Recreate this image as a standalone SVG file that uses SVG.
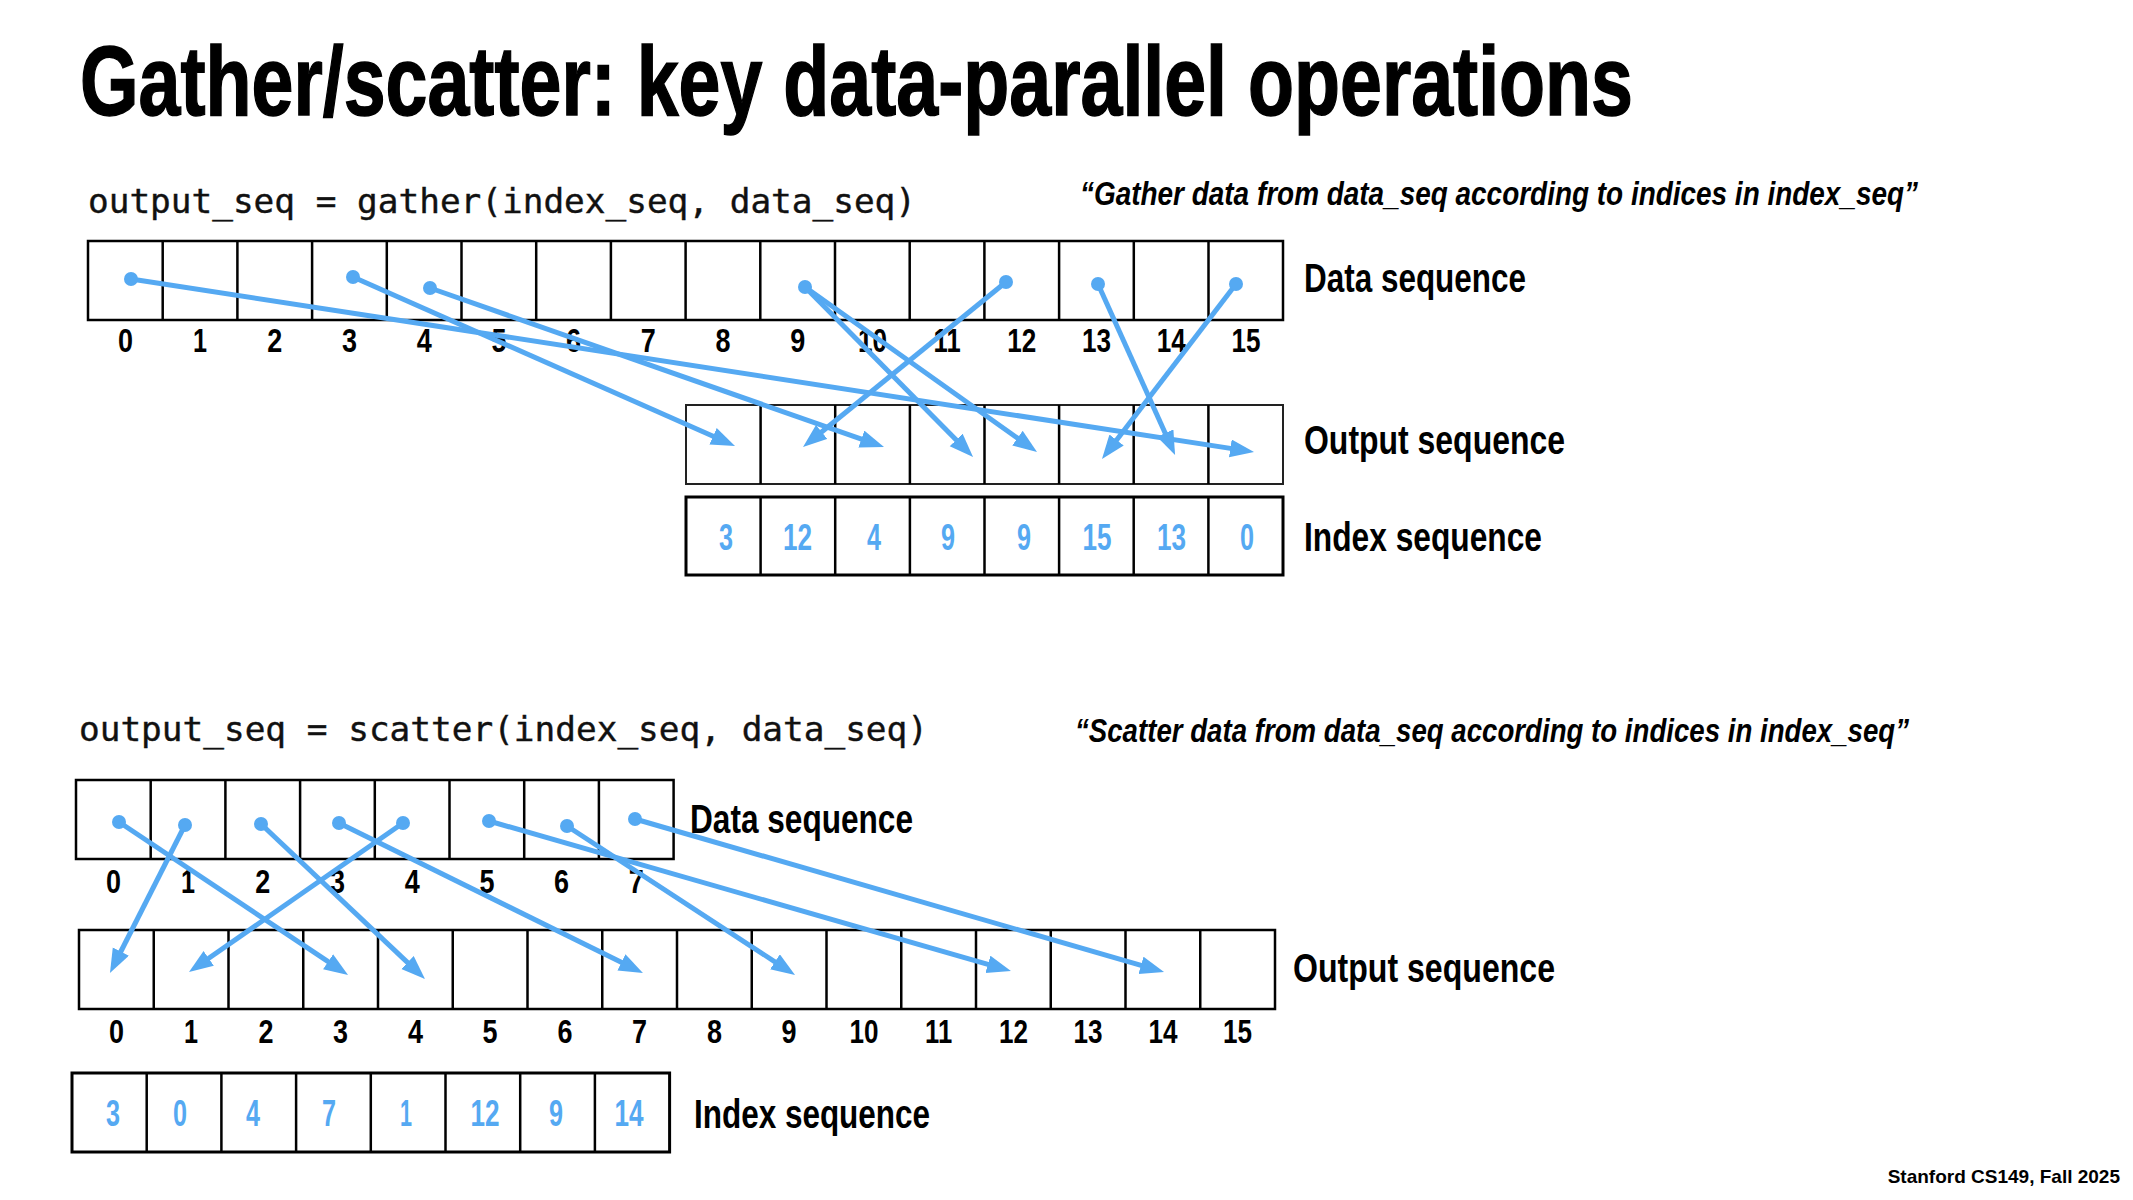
<svg xmlns="http://www.w3.org/2000/svg" width="2133" height="1200" viewBox="0 0 2133 1200">
<style>
  .title{font-family:"Liberation Sans Narrow","Liberation Sans",sans-serif;font-weight:bold;font-size:98px;fill:#000;stroke:#000;stroke-width:1.5}
  .code{font-family:"DejaVu Sans Mono","Liberation Mono",monospace;font-size:34px;fill:#111;stroke:#111;stroke-width:0.4}
  .quote{font-family:"Liberation Sans Narrow","Liberation Sans",sans-serif;font-weight:bold;font-style:italic;font-size:34px;fill:#000}
  .lbl{font-family:"Liberation Sans Narrow","Liberation Sans",sans-serif;font-weight:bold;font-size:41px;fill:#000}
  .num{font-family:"Liberation Sans Narrow","Liberation Sans",sans-serif;font-weight:bold;font-size:34px;fill:#000;text-anchor:middle}
  .idx{font-family:"Liberation Sans Narrow","Liberation Sans",sans-serif;font-weight:bold;font-size:37px;fill:#55a9f2;text-anchor:middle}
  .foot{font-family:"Liberation Sans Narrow","Liberation Sans",sans-serif;font-weight:bold;font-size:19px;fill:#000;text-anchor:end}
  .cell{fill:#fff;stroke:#000;stroke-width:2.5}
  .cellthin{fill:#fff;stroke:#222;stroke-width:2}
  .cellthick{fill:#fff;stroke:#000;stroke-width:3}
  .arr{stroke:#55a9f2;stroke-width:5;fill:none;marker-end:url(#ah)}
  .dot{fill:#55a9f2}
</style>
<defs>
  <marker id="ah" markerUnits="userSpaceOnUse" markerWidth="26" markerHeight="20" refX="10" refY="9" orient="auto">
    <path d="M0,0 L24,9 L0,18 z" fill="#55a9f2"/>
  </marker>
</defs>
<rect width="2133" height="1200" fill="#fff"/>

<text class="title" x="80" y="115" textLength="1553" lengthAdjust="spacingAndGlyphs">Gather/scatter: key data-parallel operations</text>

<!-- GATHER -->
<text class="code" x="88" y="213" textLength="828" lengthAdjust="spacingAndGlyphs">output_seq = gather(index_seq, data_seq)</text>
<text class="quote" x="1080" y="205" textLength="838" lengthAdjust="spacingAndGlyphs">“Gather data from data_seq according to indices in index_seq”</text>

<g id="gather-data">
  <rect class="cell" x="88" y="241" width="1195" height="79"/>
  <path d="M162.7,241V320M237.4,241V320M312.1,241V320M386.8,241V320M461.5,241V320M536.2,241V320M610.9,241V320M685.6,241V320M760.3,241V320M835,241V320M909.7,241V320M984.4,241V320M1059.1,241V320M1133.8,241V320M1208.5,241V320" stroke="#000" stroke-width="2.5"/>
  <g>
    <text class="num" x="125.4" y="352" textLength="15" lengthAdjust="spacingAndGlyphs">0</text>
    <text class="num" x="200.1" y="352" textLength="14" lengthAdjust="spacingAndGlyphs">1</text>
    <text class="num" x="274.8" y="352" textLength="15" lengthAdjust="spacingAndGlyphs">2</text>
    <text class="num" x="349.5" y="352" textLength="15" lengthAdjust="spacingAndGlyphs">3</text>
    <text class="num" x="424.2" y="352" textLength="15" lengthAdjust="spacingAndGlyphs">4</text>
    <text class="num" x="498.9" y="352" textLength="15" lengthAdjust="spacingAndGlyphs">5</text>
    <text class="num" x="573.6" y="352" textLength="15" lengthAdjust="spacingAndGlyphs">6</text>
    <text class="num" x="648.3" y="352" textLength="15" lengthAdjust="spacingAndGlyphs">7</text>
    <text class="num" x="723" y="352" textLength="15" lengthAdjust="spacingAndGlyphs">8</text>
    <text class="num" x="797.7" y="352" textLength="15" lengthAdjust="spacingAndGlyphs">9</text>
    <text class="num" x="872.4" y="352" textLength="29" lengthAdjust="spacingAndGlyphs">10</text>
    <text class="num" x="947.1" y="352" textLength="27" lengthAdjust="spacingAndGlyphs">11</text>
    <text class="num" x="1021.8" y="352" textLength="29" lengthAdjust="spacingAndGlyphs">12</text>
    <text class="num" x="1096.5" y="352" textLength="29" lengthAdjust="spacingAndGlyphs">13</text>
    <text class="num" x="1171.2" y="352" textLength="29" lengthAdjust="spacingAndGlyphs">14</text>
    <text class="num" x="1245.9" y="352" textLength="29" lengthAdjust="spacingAndGlyphs">15</text>
  </g>
  <text class="lbl" x="1304" y="292" textLength="222" lengthAdjust="spacingAndGlyphs">Data sequence</text>
</g>

<g id="gather-output">
  <rect class="cellthin" x="686" y="405" width="597" height="79"/>
  <path d="M760.6,405V484M835.2,405V484M909.9,405V484M984.5,405V484M1059.1,405V484M1133.7,405V484M1208.4,405V484" stroke="#000" stroke-width="2.5"/>
  <text class="lbl" x="1304" y="454" textLength="261" lengthAdjust="spacingAndGlyphs">Output sequence</text>
</g>

<g id="gather-index">
  <rect class="cellthick" x="686" y="497" width="597" height="78"/>
  <path d="M760.6,497V575M835.2,497V575M909.9,497V575M984.5,497V575M1059.1,497V575M1133.7,497V575M1208.4,497V575" stroke="#000" stroke-width="2.5"/>
  <text class="idx" x="726" y="550" textLength="14" lengthAdjust="spacingAndGlyphs">3</text>
  <text class="idx" x="797.6" y="550" textLength="29" lengthAdjust="spacingAndGlyphs">12</text>
  <text class="idx" x="874" y="550" textLength="14" lengthAdjust="spacingAndGlyphs">4</text>
  <text class="idx" x="948" y="550" textLength="14" lengthAdjust="spacingAndGlyphs">9</text>
  <text class="idx" x="1024" y="550" textLength="14" lengthAdjust="spacingAndGlyphs">9</text>
  <text class="idx" x="1097" y="550" textLength="29" lengthAdjust="spacingAndGlyphs">15</text>
  <text class="idx" x="1171.5" y="550" textLength="29" lengthAdjust="spacingAndGlyphs">13</text>
  <text class="idx" x="1247" y="550" textLength="14" lengthAdjust="spacingAndGlyphs">0</text>
  <text class="lbl" x="1304" y="551" textLength="238" lengthAdjust="spacingAndGlyphs">Index sequence</text>
</g>

<g id="gather-connectors">
  <line class="arr" x1="353" y1="277" x2="722.2" y2="440.3"/>
  <line class="arr" x1="1006" y1="282" x2="813.9" y2="438.2"/>
  <line class="arr" x1="430" y1="288" x2="870.8" y2="442.4"/>
  <line class="arr" x1="805" y1="287" x2="963.2" y2="447"/>
  <line class="arr" x1="805" y1="287" x2="1025.6" y2="443.9"/>
  <line class="arr" x1="1236" y1="284" x2="1110.5" y2="447.9"/>
  <line class="arr" x1="1098" y1="284" x2="1169.3" y2="442.2"/>
  <line class="arr" x1="131" y1="279" x2="1240.2" y2="449.9"/>
  <circle class="dot" cx="131" cy="279" r="7"/>
  <circle class="dot" cx="353" cy="277" r="7"/>
  <circle class="dot" cx="430" cy="288" r="7"/>
  <circle class="dot" cx="805" cy="287" r="7"/>
  <circle class="dot" cx="1006" cy="282" r="7"/>
  <circle class="dot" cx="1098" cy="284" r="7"/>
  <circle class="dot" cx="1236" cy="284" r="7"/>
</g>

<!-- SCATTER -->
<text class="code" x="79" y="741" textLength="849" lengthAdjust="spacingAndGlyphs">output_seq = scatter(index_seq, data_seq)</text>
<text class="quote" x="1075" y="742" textLength="834" lengthAdjust="spacingAndGlyphs">“Scatter data from data_seq according to indices in index_seq”</text>

<g id="scatter-data">
  <rect class="cell" x="76" y="780" width="597.6" height="79"/>
  <path d="M150.7,780V859M225.4,780V859M300.1,780V859M374.8,780V859M449.5,780V859M524.2,780V859M598.9,780V859" stroke="#000" stroke-width="2.5"/>
  <text class="num" x="113.4" y="893" textLength="15" lengthAdjust="spacingAndGlyphs">0</text>
  <text class="num" x="188.1" y="893" textLength="14" lengthAdjust="spacingAndGlyphs">1</text>
  <text class="num" x="262.8" y="893" textLength="15" lengthAdjust="spacingAndGlyphs">2</text>
  <text class="num" x="337.5" y="893" textLength="15" lengthAdjust="spacingAndGlyphs">3</text>
  <text class="num" x="412.2" y="893" textLength="15" lengthAdjust="spacingAndGlyphs">4</text>
  <text class="num" x="486.9" y="893" textLength="15" lengthAdjust="spacingAndGlyphs">5</text>
  <text class="num" x="561.6" y="893" textLength="15" lengthAdjust="spacingAndGlyphs">6</text>
  <text class="num" x="636.3" y="893" textLength="15" lengthAdjust="spacingAndGlyphs">7</text>
  <text class="lbl" x="690" y="833" textLength="223" lengthAdjust="spacingAndGlyphs">Data sequence</text>
</g>

<g id="scatter-output">
  <rect class="cell" x="79" y="930" width="1196" height="79"/>
  <path d="M153.75,930V1009M228.5,930V1009M303.25,930V1009M378,930V1009M452.75,930V1009M527.5,930V1009M602.25,930V1009M677,930V1009M751.75,930V1009M826.5,930V1009M901.25,930V1009M976,930V1009M1050.75,930V1009M1125.5,930V1009M1200.25,930V1009" stroke="#000" stroke-width="2.5"/>
  <text class="num" x="116.4" y="1043" textLength="15" lengthAdjust="spacingAndGlyphs">0</text>
  <text class="num" x="191.1" y="1043" textLength="14" lengthAdjust="spacingAndGlyphs">1</text>
  <text class="num" x="265.9" y="1043" textLength="15" lengthAdjust="spacingAndGlyphs">2</text>
  <text class="num" x="340.6" y="1043" textLength="15" lengthAdjust="spacingAndGlyphs">3</text>
  <text class="num" x="415.4" y="1043" textLength="15" lengthAdjust="spacingAndGlyphs">4</text>
  <text class="num" x="490.1" y="1043" textLength="15" lengthAdjust="spacingAndGlyphs">5</text>
  <text class="num" x="564.9" y="1043" textLength="15" lengthAdjust="spacingAndGlyphs">6</text>
  <text class="num" x="639.6" y="1043" textLength="15" lengthAdjust="spacingAndGlyphs">7</text>
  <text class="num" x="714.4" y="1043" textLength="15" lengthAdjust="spacingAndGlyphs">8</text>
  <text class="num" x="789.1" y="1043" textLength="15" lengthAdjust="spacingAndGlyphs">9</text>
  <text class="num" x="863.9" y="1043" textLength="29" lengthAdjust="spacingAndGlyphs">10</text>
  <text class="num" x="938.6" y="1043" textLength="27" lengthAdjust="spacingAndGlyphs">11</text>
  <text class="num" x="1013.4" y="1043" textLength="29" lengthAdjust="spacingAndGlyphs">12</text>
  <text class="num" x="1088.1" y="1043" textLength="29" lengthAdjust="spacingAndGlyphs">13</text>
  <text class="num" x="1162.9" y="1043" textLength="29" lengthAdjust="spacingAndGlyphs">14</text>
  <text class="num" x="1237.6" y="1043" textLength="29" lengthAdjust="spacingAndGlyphs">15</text>
  <text class="lbl" x="1293" y="982" textLength="262" lengthAdjust="spacingAndGlyphs">Output sequence</text>
</g>

<g id="scatter-index">
  <rect class="cellthick" x="72" y="1073" width="597.6" height="79"/>
  <path d="M146.7,1073V1152M221.4,1073V1152M296.1,1073V1152M370.8,1073V1152M445.5,1073V1152M520.2,1073V1152M594.9,1073V1152" stroke="#000" stroke-width="2.5"/>
  <text class="idx" x="113" y="1126" textLength="14" lengthAdjust="spacingAndGlyphs">3</text>
  <text class="idx" x="180" y="1126" textLength="14" lengthAdjust="spacingAndGlyphs">0</text>
  <text class="idx" x="253" y="1126" textLength="14" lengthAdjust="spacingAndGlyphs">4</text>
  <text class="idx" x="329" y="1126" textLength="14" lengthAdjust="spacingAndGlyphs">7</text>
  <text class="idx" x="406" y="1126" textLength="12" lengthAdjust="spacingAndGlyphs">1</text>
  <text class="idx" x="485" y="1126" textLength="29" lengthAdjust="spacingAndGlyphs">12</text>
  <text class="idx" x="556" y="1126" textLength="14" lengthAdjust="spacingAndGlyphs">9</text>
  <text class="idx" x="629" y="1126" textLength="29" lengthAdjust="spacingAndGlyphs">14</text>
  <text class="lbl" x="694" y="1128" textLength="236" lengthAdjust="spacingAndGlyphs">Index sequence</text>
</g>

<g id="scatter-connectors">
  <line class="arr" x1="119" y1="822" x2="336.4" y2="967.2"/>
  <line class="arr" x1="185" y1="825" x2="116.3" y2="960.5"/>
  <line class="arr" x1="261" y1="824" x2="414.8" y2="969.4"/>
  <line class="arr" x1="339" y1="823" x2="630.4" y2="966.8"/>
  <line class="arr" x1="403" y1="823" x2="200.5" y2="964"/>
  <line class="arr" x1="489" y1="821" x2="997.5" y2="967.1"/>
  <line class="arr" x1="567" y1="826" x2="783.3" y2="967.3"/>
  <line class="arr" x1="635" y1="819" x2="1150.6" y2="968.1"/>
  <circle class="dot" cx="119" cy="822" r="7"/>
  <circle class="dot" cx="185" cy="825" r="7"/>
  <circle class="dot" cx="261" cy="824" r="7"/>
  <circle class="dot" cx="339" cy="823" r="7"/>
  <circle class="dot" cx="403" cy="823" r="7"/>
  <circle class="dot" cx="489" cy="821" r="7"/>
  <circle class="dot" cx="567" cy="826" r="7"/>
  <circle class="dot" cx="635" cy="819" r="7"/>
</g>

<text class="foot" x="2120" y="1183">Stanford CS149, Fall 2025</text>
</svg>
